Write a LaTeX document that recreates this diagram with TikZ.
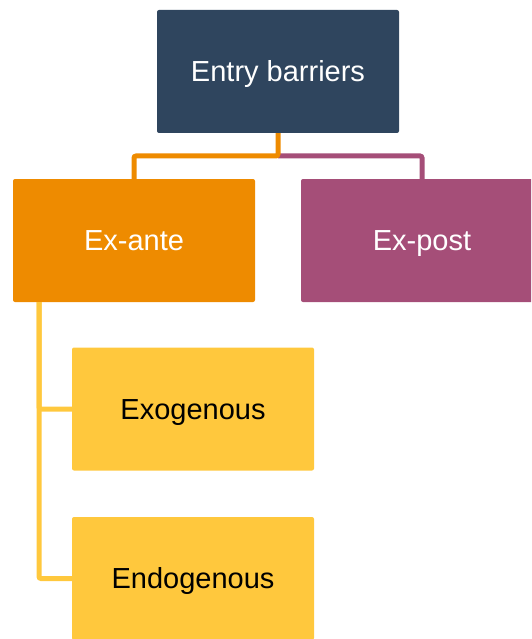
\documentclass[tikz,border=0pt]{standalone}
\usepackage{fontspec}
\setmainfont{Liberation Sans}
\definecolor{navy}{HTML}{2F455E}
\definecolor{orng}{HTML}{EE8B00}
\definecolor{plum}{HTML}{A54E78}
\definecolor{gold}{HTML}{FFC83D}
\begin{document}
\begin{tikzpicture}[x=1pt,y=-1pt,
  box/.style={rounded corners=2pt, minimum width=242pt, minimum height=123pt,
    inner sep=0pt, text height=20.8pt, text depth=0pt,
    font=\fontsize{29}{35}\selectfont},
  link/.style={line width=5pt, rounded corners=2pt}]
\useasboundingbox (0,0) rectangle (531,639);
\begin{scope}
\clip (0,0) rectangle (531,639);
% boxes
\node[box, fill=navy, text=white] (root) at (278,71.5) {Entry barriers};
\node[box, fill=orng, text=white] (ante) at (134,240.5) {Ex-ante};
\node[box, fill=plum, text=white] (post) at (422,240.5) {Ex-post};
\node[box, fill=gold, text=black] (exo) at (193,409) {Exogenous};
\node[box, fill=gold, text=black] (endo) at (193,578.5) {Endogenous};
% connectors
\coordinate (bus) at (278,156);
\coordinate (trunk) at (39,302);
\draw[link, plum] (bus) -| (post.north);
\draw[link, orng] (root.south) -- (bus) -| (ante.north);
\draw[link, gold] (trunk) |- (exo.west);
\draw[link, gold] (trunk) |- (endo.west);
\end{scope}
\end{tikzpicture}
\end{document}
